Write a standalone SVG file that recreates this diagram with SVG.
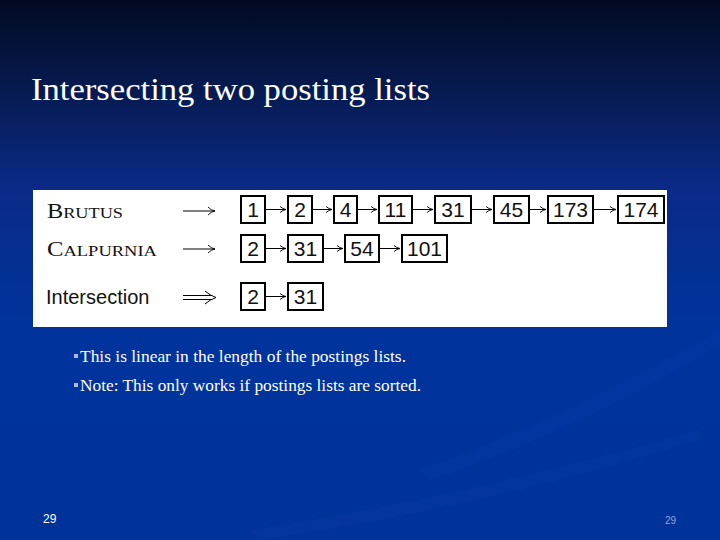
<svg xmlns="http://www.w3.org/2000/svg" width="720" height="540" viewBox="0 0 720 540">
<defs>
<linearGradient id="bg" x1="0" y1="0" x2="0" y2="1">
<stop offset="0" stop-color="#020a22"/>
<stop offset="0.15" stop-color="#06194c"/>
<stop offset="0.35" stop-color="#0a2a88"/>
<stop offset="0.6" stop-color="#00339c"/>
<stop offset="1" stop-color="#003399"/>
</linearGradient>
<marker id="ah" viewBox="0 0 8 8" refX="7" refY="4" markerWidth="8" markerHeight="8" markerUnits="userSpaceOnUse" orient="auto">
<path d="M1,1 Q4,3.5 7,4 Q4,4.5 1,7" fill="none" stroke="#000" stroke-width="0.9"/>
</marker>
<marker id="ahl" viewBox="0 0 10 10" refX="9" refY="5" markerWidth="10" markerHeight="10" markerUnits="userSpaceOnUse" orient="auto">
<path d="M2,1 Q5,4.3 9,5 Q5,5.7 2,9" fill="none" stroke="#000" stroke-width="0.9"/>
</marker>
</defs>
<style>
.box{fill:#fff;stroke:#000;stroke-width:2}
.num{font-family:"Liberation Sans",Arial,sans-serif;font-size:21px;fill:#111;text-anchor:middle}
.lbl{font-family:"Liberation Serif","Times New Roman",serif;fill:#111}
.c{stroke:#000;stroke-width:1;fill:none;marker-end:url(#ah)}
.cl{stroke:#000;stroke-width:1;fill:none;marker-end:url(#ahl)}
.bul{font-family:"Liberation Serif","Times New Roman",serif;font-size:16px;fill:#fff}
</style>
<rect width="720" height="540" fill="url(#bg)"/>
<path d="M420,470 Q560,420 720,330 L720,345 Q580,430 430,480 Z" fill="#0a3aa8" opacity="0.35"/>
<path d="M250,530 Q450,500 700,430 L700,440 Q470,510 260,540 Z" fill="#0a3aa8" opacity="0.3"/>
<text x="31" y="100" font-family="'Liberation Serif','Times New Roman',serif" font-size="32" fill="#fff" textLength="399" lengthAdjust="spacingAndGlyphs">Intersecting two posting lists</text>
<rect x="33" y="190" width="634" height="137" fill="#fff"/>
<g id="label-brutus"><text class="lbl" x="47" y="218" font-size="20" textLength="76" lengthAdjust="spacingAndGlyphs">B<tspan font-size="15">RUTUS</tspan></text></g>
<g id="label-calpurnia"><text class="lbl" x="47" y="256" font-size="20" textLength="110" lengthAdjust="spacingAndGlyphs">C<tspan font-size="15">ALPURNIA</tspan></text></g>
<g id="label-intersection"><text x="46" y="304" font-family="'Liberation Sans',Arial,sans-serif" font-size="20" fill="#111">Intersection</text></g>
<g id="b1"><rect class="box" x="241" y="196" width="24" height="27"/><text class="num" x="253" y="217">1</text></g>
<g id="b2"><rect class="box" x="288" y="196" width="24" height="27"/><text class="num" x="300" y="217">2</text></g>
<g id="b4"><rect class="box" x="334" y="196" width="23" height="27"/><text class="num" x="345.5" y="217">4</text></g>
<g id="b11"><rect class="box" x="379" y="196" width="33" height="27"/><text class="num" x="395.5" y="217">11</text></g>
<g id="b31"><rect class="box" x="435" y="196" width="36" height="27"/><text class="num" x="453" y="217">31</text></g>
<g id="b45"><rect class="box" x="494" y="196" width="35" height="27"/><text class="num" x="511.5" y="217">45</text></g>
<g id="b173"><rect class="box" x="548" y="196" width="45" height="27"/><text class="num" x="570.5" y="217">173</text></g>
<g id="b174"><rect class="box" x="618" y="196" width="46" height="27"/><text class="num" x="641" y="217">174</text></g>
<g id="c2"><rect class="box" x="241" y="235" width="24" height="27"/><text class="num" x="253" y="256">2</text></g>
<g id="c31"><rect class="box" x="288" y="235" width="35" height="27"/><text class="num" x="305.5" y="256">31</text></g>
<g id="c54"><rect class="box" x="345" y="235" width="34" height="27"/><text class="num" x="362" y="256">54</text></g>
<g id="c101"><rect class="box" x="402" y="235" width="45" height="27"/><text class="num" x="424.5" y="256">101</text></g>
<g id="i2"><rect class="box" x="241" y="283" width="24" height="27"/><text class="num" x="253" y="304">2</text></g>
<g id="i31"><rect class="box" x="288" y="283" width="35" height="27"/><text class="num" x="305.5" y="304">31</text></g>
<g id="connectors">
<line class="cl" x1="183" y1="211" x2="215" y2="211"/>
<line class="cl" x1="183" y1="249" x2="215" y2="249"/>
<path d="M183,295.5 H212 M183,299.5 H212 M205,291 Q210,295.5 216,297.5 Q210,299.5 205,304" fill="none" stroke="#000" stroke-width="1"/>
<line class="c" x1="266" y1="209.5" x2="286" y2="209.5"/>
<line class="c" x1="313" y1="209.5" x2="332" y2="209.5"/>
<line class="c" x1="358" y1="209.5" x2="377" y2="209.5"/>
<line class="c" x1="413" y1="209.5" x2="433" y2="209.5"/>
<line class="c" x1="472" y1="209.5" x2="492" y2="209.5"/>
<line class="c" x1="530" y1="209.5" x2="546" y2="209.5"/>
<line class="c" x1="594" y1="209.5" x2="616" y2="209.5"/>
<line class="c" x1="266" y1="248.5" x2="286" y2="248.5"/>
<line class="c" x1="324" y1="248.5" x2="343" y2="248.5"/>
<line class="c" x1="380" y1="248.5" x2="400" y2="248.5"/>
<line class="c" x1="266" y1="296.5" x2="286" y2="296.5"/>
</g>
<rect x="74" y="354" width="4" height="4" fill="#b0b8d8"/>
<text class="bul" x="80" y="362" textLength="326" lengthAdjust="spacingAndGlyphs">This is linear in the length of the postings lists.</text>
<rect x="74" y="383" width="4" height="4" fill="#b0b8d8"/>
<text class="bul" x="80" y="391" textLength="341" lengthAdjust="spacingAndGlyphs">Note: This only works if postings lists are sorted.</text>
<text x="43" y="523" font-family="'Liberation Sans',Arial,sans-serif" font-size="12" fill="#fff">29</text>
<text x="665" y="524" font-family="'Liberation Sans',Arial,sans-serif" font-size="10" fill="#8fa6dc">29</text>
</svg>
